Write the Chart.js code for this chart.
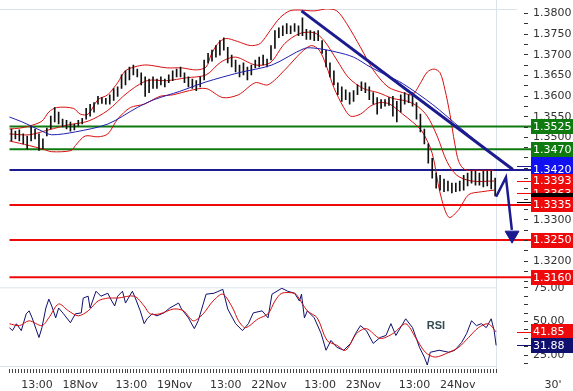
<!DOCTYPE html>
<html>
<head>
<meta charset="utf-8">
<script src="https://cdn.jsdelivr.net/npm/chart.js@4.4.0/dist/chart.umd.min.js"></script>
<style>
  html, body { margin: 0; padding: 0; background: #fff; }
  #wrap { width: 573px; height: 391px; }
</style>
</head>
<body>
<div id="wrap"><canvas id="chart" width="573" height="391"></canvas></div>
<script>
'use strict';

// hourly bars, one per hour from 17Nov 06:00
const barHigh = [
  1.3519, 1.3514, 1.3517, 1.3507, 1.3502, 1.3526, 1.3519, 1.3507, 1.3495, 1.3521,
  1.3550, 1.3571, 1.3560, 1.3543, 1.3540, 1.3536, 1.3531, 1.3540, 1.3545, 1.3569,
  1.3579, 1.3583, 1.3598, 1.3595, 1.3593, 1.3602, 1.3617, 1.3621, 1.3650, 1.3660,
  1.3669, 1.3674, 1.3664, 1.3655, 1.3645, 1.3640, 1.3645, 1.3640, 1.3645, 1.3640,
  1.3650, 1.3660, 1.3664, 1.3669, 1.3655, 1.3645, 1.3640, 1.3636, 1.3645, 1.3686,
  1.3702, 1.3710, 1.3721, 1.3733, 1.3740, 1.3717, 1.3698, 1.3686, 1.3674, 1.3679,
  1.3669, 1.3674, 1.3686, 1.3693, 1.3698, 1.3688, 1.3721, 1.3757, 1.3764, 1.3769,
  1.3774, 1.3769, 1.3774, 1.3769, 1.3788, 1.3760, 1.3757, 1.3755, 1.3757, 1.3733,
  1.3710, 1.3679, 1.3660, 1.3631, 1.3621, 1.3614, 1.3607, 1.3612, 1.3626, 1.3633,
  1.3631, 1.3621, 1.3607, 1.3595, 1.3590, 1.3590, 1.3595, 1.3598, 1.3586, 1.3602,
  1.3607, 1.3602, 1.3607, 1.3583, 1.3555, 1.3519, 1.3483, 1.3448, 1.3412, 1.3407,
  1.3398, 1.3393, 1.3388, 1.3388, 1.3393, 1.3407, 1.3412, 1.3417, 1.3417, 1.3412,
  1.3417, 1.3417, 1.3417, 1.3400
];
const barLow = [
  1.3490, 1.3495, 1.3490, 1.3483, 1.3471, 1.3490, 1.3495, 1.3467, 1.3471, 1.3502,
  1.3519, 1.3536, 1.3531, 1.3524, 1.3519, 1.3514, 1.3517, 1.3526, 1.3531, 1.3543,
  1.3550, 1.3560, 1.3579, 1.3581, 1.3579, 1.3579, 1.3588, 1.3598, 1.3617, 1.3626,
  1.3638, 1.3650, 1.3645, 1.3626, 1.3598, 1.3607, 1.3617, 1.3617, 1.3626, 1.3621,
  1.3631, 1.3636, 1.3645, 1.3645, 1.3631, 1.3621, 1.3617, 1.3612, 1.3621, 1.3638,
  1.3679, 1.3683, 1.3693, 1.3698, 1.3710, 1.3679, 1.3669, 1.3657, 1.3645, 1.3650,
  1.3638, 1.3650, 1.3667, 1.3669, 1.3674, 1.3669, 1.3686, 1.3714, 1.3740, 1.3745,
  1.3750, 1.3750, 1.3755, 1.3745, 1.3745, 1.3736, 1.3736, 1.3733, 1.3733, 1.3702,
  1.3669, 1.3645, 1.3626, 1.3602, 1.3586, 1.3590, 1.3579, 1.3586, 1.3602, 1.3612,
  1.3607, 1.3590, 1.3579, 1.3555, 1.3569, 1.3574, 1.3576, 1.3550, 1.3536, 1.3560,
  1.3579, 1.3583, 1.3574, 1.3543, 1.3512, 1.3483, 1.3436, 1.3400, 1.3376, 1.3371,
  1.3367, 1.3369, 1.3364, 1.3367, 1.3369, 1.3371, 1.3381, 1.3388, 1.3383, 1.3383,
  1.3379, 1.3381, 1.3374, 1.3357
];

// [hour, price]
const upperBand = [
  [0, 1.3519], [2.5, 1.3521], [5, 1.3526], [8.25, 1.3538], [10, 1.3560], [12, 1.3571],
  [16.25, 1.3569], [18, 1.3555], [20, 1.3555], [22.5, 1.3590], [25, 1.3602], [27.5, 1.3631],
  [29.5, 1.3660], [32.5, 1.3671], [35, 1.3674], [40, 1.3667], [43.75, 1.3667], [47.5, 1.3662],
  [50, 1.3669], [51.25, 1.3698], [53, 1.3726], [55, 1.3738], [58, 1.3731], [61.25, 1.3721],
  [63.75, 1.3726], [66.25, 1.3757], [68.75, 1.3788], [71.25, 1.3805], [73.75, 1.3807],
  [77.5, 1.3805], [80.75, 1.3810], [83.25, 1.3805], [85.75, 1.3774], [89.25, 1.3717],
  [92.5, 1.3662], [96.25, 1.3621], [100, 1.3607], [102.5, 1.3602], [104.25, 1.3626],
  [106.25, 1.3657], [108, 1.3664], [109.5, 1.3655], [110.75, 1.3614], [112, 1.3555],
  [113.25, 1.3483], [114.25, 1.3440], [115.75, 1.3421], [118.75, 1.3419], [123.25, 1.3419]
];
const middleBand = [
  [0, 1.3507], [5, 1.3505], [10, 1.3517], [15, 1.3529], [20, 1.3538], [25, 1.3564],
  [30, 1.3607], [35, 1.3636], [40, 1.3636], [45, 1.3643], [50, 1.3650], [53.75, 1.3681],
  [57.5, 1.3693], [62.5, 1.3674], [66.25, 1.3679], [70, 1.3726], [73.75, 1.3750],
  [77.5, 1.3752], [80, 1.3733], [83.25, 1.3686], [86.25, 1.3643], [90, 1.3617],
  [93.75, 1.3607], [97.5, 1.3593], [101.25, 1.3586], [103.75, 1.3574], [106.25, 1.3550],
  [108.75, 1.3502], [111.25, 1.3440], [113.75, 1.3407], [117.5, 1.3393], [123.25, 1.3393]
];
const lowerBand = [
  [0, 1.3490], [5, 1.3479], [8.25, 1.3471], [10.75, 1.3464], [15.75, 1.3467], [16.75, 1.3479],
  [19.25, 1.3502], [22.5, 1.3500], [25, 1.3507], [27.5, 1.3543], [30.75, 1.3571],
  [34.25, 1.3579], [38.25, 1.3598], [41.75, 1.3602], [45.75, 1.3612], [50, 1.3617],
  [54.25, 1.3595], [58.25, 1.3602], [62.5, 1.3631], [65.75, 1.3626], [70, 1.3662],
  [74.25, 1.3705], [76.75, 1.3721], [78.75, 1.3710], [80.5, 1.3674], [82.5, 1.3619],
  [85, 1.3571], [86.75, 1.3550], [89.25, 1.3555], [91.75, 1.3574], [94.25, 1.3583],
  [96.75, 1.3579], [100, 1.3555], [102.5, 1.3536], [105, 1.3512], [107.5, 1.3460],
  [109.5, 1.3364], [111.75, 1.3305], [114.25, 1.3324], [116.75, 1.3360], [120, 1.3367],
  [123.25, 1.3371]
];
const slowAverage = [
  [0, 1.3548], [3.25, 1.3536], [8.25, 1.3514], [10.75, 1.3505], [16.75, 1.3512],
  [25, 1.3531], [32.5, 1.3571], [36.75, 1.3590], [43.25, 1.3610], [50, 1.3633],
  [58.25, 1.3655], [66.75, 1.3674], [75, 1.3714], [78.25, 1.3714], [83.25, 1.3705],
  [87.5, 1.3693], [91.75, 1.3669], [96.75, 1.3645], [100, 1.3629], [107.5, 1.3579],
  [115, 1.3519], [122.5, 1.3460], [127, 1.3429]
];
const trendLine = [[74.25, 1.3805], [128, 1.3421]];
const arrowPath = [[123.75, 1.3355], [126.25, 1.3402], [127.75, 1.3275]];
const arrowHead = [[127.8, 1.3262]];

const levels = [1.3525, 1.3470, 1.3420, 1.3335, 1.3250, 1.3160];
const levelLabels = ['1.3525', '1.3470', '1.3420', '1.3335', '1.3250', '1.3160'];
const bandLast = [1.3393, 1.3363];
const bandLastLabels = ['1.3393', '1.3363'];
const lastClose = 1.3345;

const priceTickLabels = ['1.3800', '1.3750', '1.3700', '1.3650', '1.3600', '1.3550', '1.3500',
  '1.3450', '1.3400', '1.3350', '1.3300', '1.3250', '1.3200', '1.3150'];

// RSI [hour, value]
const rsiLine = [
  [0, 45.0], [0.75, 42.8], [1.75, 47.9], [3, 42.8], [4.25, 55.3], [5, 57.5], [5.75, 52.3],
  [7.5, 37.7], [8.25, 45.0], [9.25, 59.6], [10, 66.2], [10.75, 61.1], [11.75, 52.3],
  [12.5, 59.6], [13.75, 55.3], [15.5, 48.7], [16.75, 55.3], [18.25, 56.0], [18.75, 67.0],
  [20, 68.4], [20.5, 59.6], [22, 72.1], [23.25, 68.4], [25, 70.6], [25.75, 66.2],
  [26.75, 61.1], [27.5, 68.4], [28.75, 72.1], [29.5, 63.3], [31.25, 72.1], [32, 67.0],
  [33.25, 57.5], [34.25, 48.0], [35, 51.6], [36.25, 55.3], [37.5, 53.8], [39.25, 56.0],
  [40.75, 59.6], [43, 63.3], [43.75, 58.9], [45.5, 52.3], [47, 44.3], [48, 50.1],
  [50, 69.9], [52, 70.6], [54.25, 73.5], [55.5, 58.9], [57.5, 48.0], [59.25, 42.8],
  [60.75, 48.0], [62, 56.0], [64.25, 57.5], [65.75, 52.3], [66.75, 69.9], [69.25, 74.3],
  [70.75, 72.1], [72.5, 70.6], [73.75, 64.8], [74.25, 69.9], [75, 52.3], [75.75, 57.5],
  [77.5, 52.3], [79.25, 40.6], [80.5, 28.2], [81.75, 35.5], [83.25, 30.4], [85, 28.2],
  [86.75, 33.3], [88, 40.6], [89.25, 46.5], [90.75, 42.8], [92.5, 33.3], [94.25, 37.7],
  [95.75, 39.2], [97, 48.0], [98.25, 39.2], [100.75, 51.6], [102.5, 45.0], [104.25, 30.4],
  [105.5, 23.1], [106.25, 17.2], [107, 26.7], [109.25, 28.2], [111.75, 26.7], [113.25, 28.2],
  [115, 34.1], [116.25, 40.6], [117.5, 50.1], [118.75, 46.5], [120, 48.0], [121.25, 45.0],
  [122.5, 51.6], [123.25, 42.8], [123.75, 31.88]
];
const rsiSignal = [
  [0, 47.9], [2.5, 46.5], [5, 50.1], [8.25, 46.5], [10, 52.3], [12.5, 62.6], [15, 57.5],
  [17.5, 53.8], [20, 57.5], [22.5, 64.8], [25, 67.0], [27.5, 67.0], [31.75, 68.4],
  [34.25, 61.1], [35.75, 55.3], [38.25, 55.3], [41.75, 58.9], [44.25, 57.5], [46.75, 50.1],
  [49.25, 55.3], [51.75, 64.8], [54.25, 69.9], [56.75, 59.6], [58.25, 50.1], [60, 45.0],
  [63.25, 51.6], [65.75, 55.3], [67.5, 64.8], [69.25, 70.6], [72.5, 70.6], [73.25, 68.4],
  [75.75, 57.5], [78.25, 52.3], [80.75, 35.5], [83.25, 31.9], [85.5, 28.2], [88.25, 40.6],
  [90.75, 44.3], [94.25, 37.0], [97.5, 40.6], [100.75, 47.9], [103.25, 37.7], [105.75, 26.7],
  [108.25, 23.1], [111.75, 26.7], [114.25, 30.4], [116.75, 37.7], [119.25, 45.0],
  [121.75, 47.9], [123.75, 41.85]
];
const rsiLast = [41.85, 31.88];
const rsiLastLabels = ['41.85', '31.88'];
const rsiTickLabels = ['75.00', '50.00', '25.00'];

const timeLabels = ['13:00', '18Nov', '13:00', '19Nov', '13:00', '22Nov', '13:00', '23Nov', '13:00', '24Nov'];
const timeHours = [7, 18, 31, 42, 55, 66, 79, 90, 103, 114];
const lastHour = 123.75;

function pts(pairs) {
  return pairs.map(p => ({x: p[0], y: p[1]}));
}

const GREEN = '#0f7a0f';
const NAVY = '#1b1b8f';
const RED = '#ee0a0a';
const levelColors = [GREEN, GREEN, NAVY, RED, RED, RED];
const boxColors = [GREEN, GREEN, '#1010f0', RED, RED, RED];
const FONT = '11px "DejaVu Sans"';

const datasets = [];
datasets.push({type: 'line', data: pts(arrowHead), showLine: false, pointStyle: 'triangle',
  rotation: 180, pointRadius: 8, backgroundColor: NAVY, borderColor: NAVY, borderWidth: 1, yAxisID: 'y'});
datasets.push({type: 'line', data: pts(arrowPath), borderColor: NAVY, borderWidth: 2.5, pointRadius: 0, yAxisID: 'y'});
datasets.push({type: 'line', data: pts(trendLine), borderColor: NAVY, borderWidth: 3, pointRadius: 0, yAxisID: 'y'});
datasets.push({type: 'line', data: pts(slowAverage), borderColor: '#2020b0', borderWidth: 1, pointRadius: 0,
  tension: 0.3, yAxisID: 'y'});
datasets.push({
  type: 'bar',
  data: barHigh.map((hi, i) => ({x: i + 0.5, y: [barLow[i], hi]})),
  backgroundColor: '#111',
  barThickness: 1,
  grouped: false,
  yAxisID: 'y'
});
[upperBand, middleBand, lowerBand].forEach(band => {
  datasets.push({type: 'line', data: pts(band), borderColor: '#d81010', borderWidth: 1, pointRadius: 0,
    tension: 0.3, yAxisID: 'y'});
});
levels.forEach((v, i) => {
  datasets.push({type: 'line', data: [{x: 0, y: v}, {x: 133, y: v}], borderColor: levelColors[i],
    borderWidth: 2, pointRadius: 0, yAxisID: 'y'});
});
datasets.push({type: 'line', data: pts(rsiSignal), borderColor: '#d41010', borderWidth: 1, pointRadius: 0,
  tension: 0.3, yAxisID: 'y2'});
datasets.push({type: 'line', data: pts(rsiLine), borderColor: '#10106e', borderWidth: 1, pointRadius: 0, yAxisID: 'y2'});

function drawBox(ctx, y, bg, text) {
  ctx.fillStyle = bg;
  ctx.fillRect(531, Math.round(y - 7.5), 42, 15);
  ctx.fillStyle = '#fff';
  ctx.fillText(text, 533, y + 0.5);
}

const panels = {
  id: 'panels',
  beforeDatasetsDraw(chart) {
    const ctx = chart.ctx;
    const x = chart.scales.x, y = chart.scales.y, y2 = chart.scales.y2;
    ctx.save();
    ctx.strokeStyle = '#dbe3ea';
    ctx.lineWidth = 1;
    const xr = Math.round(x.getPixelForValue(lastHour)) + 0.5;
    ctx.beginPath();
    ctx.moveTo(0, y.top + 0.5); ctx.lineTo(517, y.top + 0.5);
    ctx.moveTo(0, y.bottom + 0.5); ctx.lineTo(xr, y.bottom + 0.5);
    ctx.moveTo(0, y2.bottom + 0.5); ctx.lineTo(xr, y2.bottom + 0.5);
    ctx.moveTo(xr, 0); ctx.lineTo(xr, y2.bottom + 6);
    ctx.stroke();
    ctx.restore();
  },
  afterDraw(chart) {
    const ctx = chart.ctx;
    const x = chart.scales.x, y = chart.scales.y, y2 = chart.scales.y2;
    ctx.save();
    ctx.font = FONT;
    ctx.textBaseline = 'middle';
    ctx.textAlign = 'left';
    ctx.strokeStyle = '#333';
    ctx.lineWidth = 1;

    // price axis
    ctx.beginPath();
    for (let i = 0; i < priceTickLabels.length * 2 - 1; i++) {
      const v = parseFloat(priceTickLabels[0]) - i * 0.0025;
      const py = Math.round(y.getPixelForValue(v)) + 0.5;
      ctx.moveTo(524, py); ctx.lineTo(528, py);
    }
    ctx.stroke();
    ctx.fillStyle = '#333';
    priceTickLabels.forEach(t => {
      ctx.fillText(t, 533, y.getPixelForValue(parseFloat(t)) + 0.5);
    });

    // rsi axis
    ctx.beginPath();
    for (let v = 75; v > 16.5; v -= 6.25) {
      const py = Math.round(y2.getPixelForValue(v)) + 0.5;
      ctx.moveTo(524, py); ctx.lineTo(528, py);
    }
    ctx.stroke();
    ctx.fillStyle = '#333';
    rsiTickLabels.forEach(t => {
      ctx.fillText(t, 533, y2.getPixelForValue(parseFloat(t)) + 0.5);
    });

    // small markers for last values
    const marks = [[y, 1.3430, NAVY], [y, 1.3423, NAVY], [y, bandLast[0], RED], [y, bandLast[1], RED],
      [y, lastClose - 0.0003, '#000'], [y2, rsiLast[0], RED], [y2, rsiLast[1], '#10106e']];
    marks.forEach(m => {
      const py = Math.round(m[0].getPixelForValue(m[1])) + 0.5;
      ctx.strokeStyle = m[2];
      ctx.beginPath(); ctx.moveTo(517, py); ctx.lineTo(531, py); ctx.stroke();
    });

    // value boxes
    [0, 1].forEach(i => drawBox(ctx, y.getPixelForValue(levels[i]), boxColors[i], levelLabels[i]));
    const by = y.getPixelForValue(levels[2]);
    ctx.fillStyle = boxColors[2];
    ctx.fillRect(531, Math.round(by - 12.5), 42, 20);
    ctx.fillStyle = '#fff';
    ctx.fillText(levelLabels[2], 533, by + 0.5);
    bandLast.forEach((v, i) => drawBox(ctx, y.getPixelForValue(v), RED, bandLastLabels[i]));
    drawBox(ctx, y.getPixelForValue(lastClose), '#000', '');
    [3, 4, 5].forEach(i => drawBox(ctx, y.getPixelForValue(levels[i]), boxColors[i], levelLabels[i]));
    drawBox(ctx, y2.getPixelForValue(rsiLast[0]), RED, rsiLastLabels[0]);
    drawBox(ctx, y2.getPixelForValue(rsiLast[1]), '#10106e', rsiLastLabels[1]);

    // RSI caption
    ctx.font = 'bold 11px "Liberation Sans"';
    ctx.fillStyle = '#2f4b4f';
    ctx.textAlign = 'center';
    ctx.fillText('RSI', 436, 326);

    // time axis
    ctx.strokeStyle = '#444';
    ctx.beginPath();
    for (let h = 0; h <= lastHour; h += 0.75) {
      const px = Math.round(x.getPixelForValue(h)) + 0.5;
      ctx.moveTo(px, y2.bottom + 3); ctx.lineTo(px, y2.bottom + 7);
    }
    ctx.stroke();
    ctx.font = FONT;
    ctx.fillStyle = '#333';
    ctx.textAlign = 'center';
    timeLabels.forEach((t, i) => {
      ctx.fillText(t, x.getPixelForValue(timeHours[i]), 385);
    });
    ctx.fillText("30'", 553, 385);
    ctx.restore();
  }
};

new Chart(document.getElementById('chart'), {
  type: 'bar',
  data: {datasets: datasets},
  options: {
    responsive: false,
    animation: false,
    events: [],
    layout: {padding: {left: 0, right: 41, top: 3, bottom: 25}},
    plugins: {legend: {display: false}, tooltip: {enabled: false}},
    scales: {
      // shifted by 1/8 hour so one-pixel bars fall on whole pixels
      x: {type: 'linear', min: -0.125, max: 132.875, display: false, offset: false},
      y: {type: 'linear', position: 'right', stack: 'panes', stackWeight: 283,
        min: 1.31357, max: 1.38095, display: false},
      y2: {type: 'linear', position: 'right', stack: 'panes', stackWeight: 80,
        min: 16.5, max: 75, display: false}
    }
  },
  plugins: [panels]
});
</script>
</body>
</html>
